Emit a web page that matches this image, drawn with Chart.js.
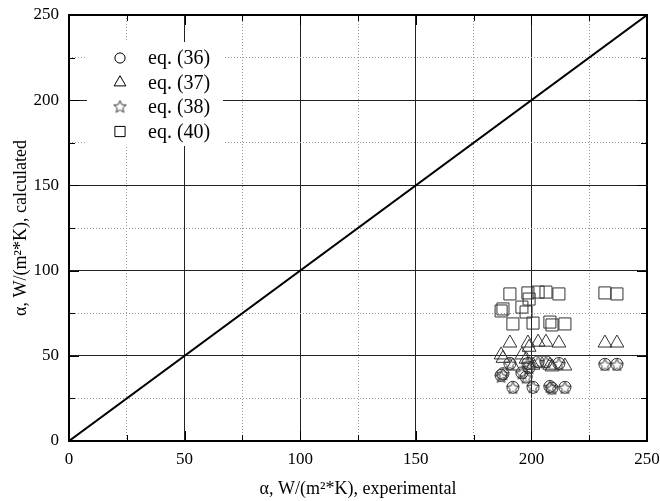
<!DOCTYPE html>
<html>
<head>
<meta charset="utf-8">
<script src="https://cdn.jsdelivr.net/npm/chart.js@4.4.0/dist/chart.umd.min.js"></script>
<style>
  html, body { margin: 0; padding: 0; background: #fff; }
  #wrap { width: 660px; height: 501px; }
</style>
</head>
<body>
<div id="wrap"><canvas id="chart" width="660" height="501"></canvas></div>
<script>
const experimental = [186.9, 187.7, 190.7, 192.0, 195.9, 197.7, 198.5, 199.0, 200.7, 202.9, 206.3, 208.0, 208.9, 211.9, 214.5, 231.8, 237.0];
const eq36 = [38.5, 39.5, 45.5, 31.5, 40.0, 37.5, 45.5, 43.0, 31.5, 46.5, 46.5, 32.0, 31.0, 45.5, 31.5, 45.0, 45.0];
const eq37 = [50.5, 48.5, 57.5, 44.0, 50.5, 48.0, 57.5, 55.0, 44.5, 58.0, 58.0, 44.5, 43.5, 57.5, 44.0, 57.5, 57.5];
const eq38 = [37.5, 39.0, 45.0, 31.0, 39.5, 37.0, 45.0, 42.5, 31.5, 46.0, 46.0, 31.5, 30.5, 45.0, 31.0, 44.5, 44.5];
const eq40 = [76.3, 77.5, 86.3, 68.7, 78.6, 75.7, 86.9, 83.3, 69.2, 87.4, 87.4, 69.8, 68.1, 86.3, 68.7, 86.9, 86.3];
const diagonal = [0, 250];
const legendLabels = [`eq. (36)`, `eq. (37)`, `eq. (38)`, `eq. (40)`];

const SERIF = `"Liberation Serif", "DejaVu Serif", serif`;
const MARK = `#333333`;

const makeStar = (r) => {
  const size = Math.ceil(r * 2 + 4);
  const cv = document.createElement(`canvas`);
  cv.width = size;
  cv.height = size;
  const g = cv.getContext(`2d`);
  const c = size / 2;
  g.beginPath();
  for (let i = 0; i < 10; i++) {
    const rad = i % 2 === 0 ? r : r * 0.45;
    const a = -Math.PI / 2 + i * Math.PI / 5;
    const px = c + rad * Math.cos(a);
    const py = c + rad * Math.sin(a);
    if (i === 0) {
      g.moveTo(px, py);
    } else {
      g.lineTo(px, py);
    }
  }
  g.closePath();
  g.strokeStyle = MARK;
  g.lineWidth = 1;
  g.stroke();
  return cv;
};
const starImage = makeStar(6.5);

const toPoints = (ys) => experimental.map((x, i) => ({x, y: ys[i]}));

const markStyles = [
  {pointStyle: `circle`, radius: 6},
  {pointStyle: `triangle`, radius: 8},
  {pointStyle: starImage, radius: 7},
  {pointStyle: `rect`, radius: 8.5}
];

const scatterSet = (label, ys, style) => ({
  type: `scatter`,
  label,
  data: toPoints(ys),
  pointStyle: style.pointStyle,
  pointRadius: style.radius,
  pointHoverRadius: style.radius,
  backgroundColor: `transparent`,
  borderColor: MARK,
  borderWidth: 1
});

const isMajor = (ctx) => ctx.tick && ctx.tick.value % 50 === 0;

// frame with inward ticks on all four sides
const framePlugin = {
  id: `frame`,
  afterDatasetsDraw(chart) {
    const {ctx, chartArea: a, scales} = chart;
    ctx.save();
    ctx.strokeStyle = `#000`;
    ctx.lineWidth = 1;
    for (let v = 0; v <= 250; v += 25) {
      const len = v % 50 === 0 ? 10 : 6;
      const px = Math.round(scales.x.getPixelForValue(v)) + 0.5;
      const py = Math.round(scales.y.getPixelForValue(v)) + 0.5;
      ctx.beginPath();
      ctx.moveTo(px, a.bottom); ctx.lineTo(px, a.bottom - len);
      ctx.moveTo(px, a.top); ctx.lineTo(px, a.top + len);
      ctx.moveTo(a.left, py); ctx.lineTo(a.left + len, py);
      ctx.moveTo(a.right, py); ctx.lineTo(a.right - len, py);
      ctx.stroke();
    }
    ctx.lineWidth = 2;
    ctx.strokeRect(a.left, a.top, a.right - a.left, a.bottom - a.top);
    ctx.restore();
  }
};

// legend box in the upper left corner of the plot
const insideLegend = {
  id: `insideLegend`,
  afterDatasetsDraw(chart) {
    const {ctx, chartArea: a} = chart;
    ctx.save();
    ctx.fillStyle = `#fff`;
    ctx.fillRect(a.left + 18, a.top + 27, 136, 104);
    ctx.font = `20px ${SERIF}`;
    ctx.textBaseline = `middle`;
    legendLabels.forEach((text, i) => {
      const y = a.top + 43 + i * 24.5;
      const style = markStyles[i];
      ctx.fillStyle = `rgba(0,0,0,0)`;
      ctx.strokeStyle = `#000`;
      ctx.lineWidth = 1;
      Chart.helpers.drawPoint(ctx, {
        pointStyle: style.pointStyle,
        radius: style.radius * 0.85,
        rotation: 0,
        borderWidth: 1
      }, a.left + 51, y);
      ctx.fillStyle = `#000`;
      ctx.fillText(text, a.left + 79, y + 1);
    });
    ctx.restore();
  }
};

const axis = (titleText, titlePadding) => ({
  type: `linear`,
  min: 0,
  max: 250,
  ticks: {
    stepSize: 25,
    autoSkip: false,
    maxRotation: 0,
    padding: 8,
    color: `#000`,
    font: {family: SERIF, size: 17},
    callback: (v) => v % 50 === 0 ? v : ``
  },
  grid: {
    drawTicks: false,
    lineWidth: 1,
    color: (ctx) => isMajor(ctx) ? `#222` : `#9a9a9a`
  },
  border: {
    display: false,
    dash: (ctx) => ctx.tick && !isMajor(ctx) ? [1, 2] : []
  },
  title: {
    display: true,
    text: titleText,
    color: `#000`,
    font: {family: SERIF, size: 18},
    padding: titlePadding
  }
});

const xAxis = axis(`α, W/(m²*K), experimental`, {top: 0, bottom: 1});
xAxis.afterFit = (scale) => {
  scale.height = 60;
  scale.paddingLeft = 0;
  scale.paddingRight = 0;
};
const yAxis = axis(`α, W/(m²*K), calculated`, {top: 10, bottom: 0});
yAxis.ticks.padding = 10;
yAxis.afterFit = (scale) => {
  scale.width = 69;
  scale.paddingTop = 0;
  scale.paddingBottom = 0;
};

new Chart(document.getElementById(`chart`), {
  type: `scatter`,
  data: {
    datasets: [
      {
        type: `line`,
        label: `y = x`,
        data: diagonal.map((v) => ({x: v, y: v})),
        borderColor: `#000`,
        borderWidth: 2,
        pointRadius: 0,
        fill: false
      },
      scatterSet(legendLabels[0], eq36, markStyles[0]),
      scatterSet(legendLabels[1], eq37, markStyles[1]),
      scatterSet(legendLabels[2], eq38, markStyles[2]),
      scatterSet(legendLabels[3], eq40, markStyles[3])
    ]
  },
  options: {
    responsive: false,
    animation: false,
    layout: {padding: {left: 0, right: 13, top: 15, bottom: 0}},
    plugins: {
      legend: {display: false},
      tooltip: {enabled: false}
    },
    scales: {x: xAxis, y: yAxis}
  },
  plugins: [framePlugin, insideLegend]
});
</script>
</body>
</html>
